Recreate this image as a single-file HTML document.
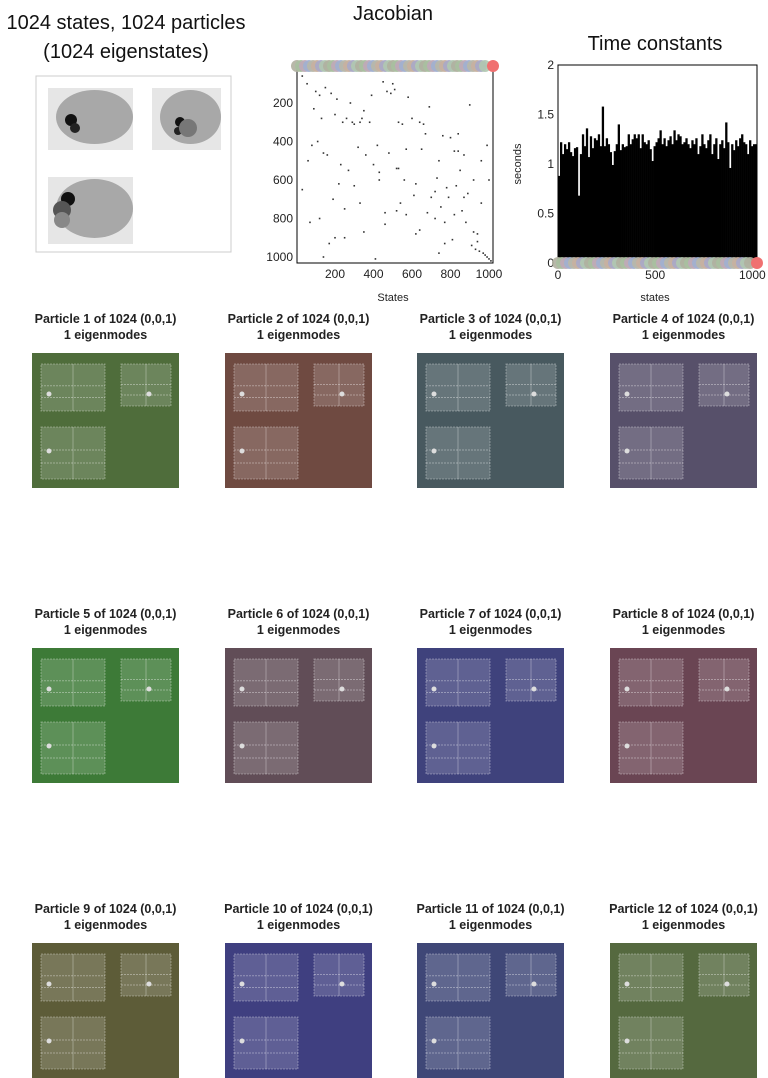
<!DOCTYPE html>
<html><head><meta charset="utf-8">
<style>
html,body{margin:0;padding:0;background:#fff;}
svg{display:block;font-family:"Liberation Sans Narrow","Liberation Sans",sans-serif;}
</style></head>
<body>
<svg id="root" width="768" height="1078" viewBox="0 0 768 1078" xmlns="http://www.w3.org/2000/svg">
  <g font-size="20" fill="#111" text-anchor="middle">
    <text x="126" y="29">1024 states, 1024 particles</text>
    <text x="126" y="58">(1024 eigenstates)</text>
  </g>
  <rect x="36" y="76" width="195" height="176" fill="#fff" stroke="#ccc"/>
  <g id="brain"></g>
  <text x="393" y="20" font-size="20" text-anchor="middle" fill="#111">Jacobian</text>
  <g id="jac"></g>
  <text x="655" y="50" font-size="20" text-anchor="middle" fill="#111">Time constants</text>
  <g id="tc"></g>
  <g id="parts"></g>
</svg>
<script>
// ---- Jacobian data (state column, state row) ----
const jacCols = [20,30,40,55,60,80,90,100,110,120,130,140,150,170,180,190,200,210,220,240,250,260,270,280,290,300,320,330,340,350,360,380,390,400,420,430,450,460,470,480,490,500,510,520,530,540,550,560,570,580,600,610,620,640,650,660,680,690,700,720,730,740,750,760,770,780,790,800,810,820,830,840,850,860,870,880,890,900,910,920,930,940,950,960,970,980,990,1000,1010,30,70,120,160,200,250,300,350,410,460,520,570,620,670,720,770,820,870,920,960,1000,140,230,330,430,530,640,740,840,940,990];
const jacRows = [30,60,20,100,500,420,230,140,400,160,280,460,120,930,150,700,260,180,620,300,900,280,550,200,300,310,430,300,280,240,470,300,160,520,420,600,90,770,140,460,150,100,130,540,300,720,310,600,780,170,280,680,620,300,440,310,770,220,690,660,590,500,740,370,820,640,690,380,910,780,630,360,550,760,470,820,670,210,940,870,960,920,970,720,980,990,1000,1010,1020,650,820,800,470,900,750,630,870,1010,830,760,440,880,360,800,930,450,690,600,500,600,1000,520,720,560,540,860,980,450,880,420];
const jacTicks = [200,400,600,800,1000];
// ---- Time constants (seconds), ~10 states per bar ----
const tcValues = [0.88,1.22,1.1,1.2,1.15,1.22,1.12,1.08,1.16,1.17,0.68,1.1,1.3,1.18,1.36,1.07,1.28,1.16,1.26,1.24,1.3,1.18,1.58,1.18,1.26,1.2,1.12,0.99,1.13,1.2,1.4,1.14,1.2,1.17,1.18,1.3,1.2,1.25,1.3,1.26,1.3,1.16,1.3,1.22,1.2,1.24,1.15,1.03,1.18,1.22,1.26,1.34,1.2,1.26,1.18,1.24,1.28,1.2,1.34,1.24,1.3,1.28,1.2,1.22,1.26,1.2,1.16,1.24,1.2,1.26,1.1,1.18,1.3,1.2,1.16,1.24,1.3,1.1,1.2,1.26,1.05,1.2,1.24,1.16,1.42,1.22,0.96,1.2,1.14,1.24,1.18,1.26,1.3,1.22,1.2,1.1,1.24,1.18,1.2,1.2];
const tcYTicks = [0,0.5,1,1.5,2];
const tcXTicks = [0,500,1000];
// ---- particle panels ----
const particleIds = [1,2,3,4,5,6,7,8,9,10,11,12];
const particleColors = ['#4f6d3b','#6f4a41','#48595f','#57506a','#3d7a37','#614d57','#3f427c','#6a4553','#5d5c38','#3f3f80','#3f4777','#55693f'];

const NS='http://www.w3.org/2000/svg';
function mk(tag, attrs, parent){const e=document.createElementNS(NS,tag);for(const k in attrs)e.setAttribute(k,attrs[k]);parent.appendChild(e);return e;}

// brain
(function(){
  const g=document.getElementById('brain');
  const views=[[48,88,85,62,'sagittal'],[152,88,69,62,'coronal'],[48,177,85,67,'axial']];
  views.forEach(v=>{
    const vg=mk('g',{},g);
    
    
    mk('rect',{x:v[0],y:v[1],width:v[2],height:v[3],fill:'#e6e6e6'},vg);
    mk('ellipse',{cx:v[0]+v[2]/2+4,cy:v[1]+v[3]/2-2,rx:v[2]/2-4,ry:v[3]/2-4,fill:'#a8a8a8'},vg);
  });
  const blobs=[[71,120,6,'#111'],[75,128,5,'#222'],[180,122,5,'#111'],[178,131,4,'#222'],[188,128,9,'#777'],[68,199,7,'#111'],[62,210,9,'#555'],[62,220,8,'#888']];
  blobs.forEach(b=>{mk('circle',{cx:b[0],cy:b[1],r:b[2],fill:b[3]},g);});
})();

// circle strip helper
const stripColors=['#b0b0a0','#a8c0a0','#c0a8b8','#a0b0d0','#b8b8a8','#c8b0a0','#a8a8c8','#b0c8b0'];
function strip(g,x0,x1,y){
  const sg=mk('g',{},g);
  
  
  for(let x=x0,i=0;x<=x1-6;x+=4,i++){mk('circle',{cx:x,cy:y,r:6,fill:stripColors[i%stripColors.length],opacity:0.9},sg);}
  mk('circle',{cx:x1,cy:y,r:6,fill:'#f07070'},sg);
}

// jacobian
(function(){
  const g=document.getElementById('jac');
  const X0=297,X1=493,Y0=66,Y1=263;
  const sx=v=>296.5+v*0.1925, sy=v=>64.5+v*0.1925;
  mk('rect',{x:X0,y:Y0,width:X1-X0,height:Y1-Y0,fill:'#fff',stroke:'#000','stroke-width':1},g);
  jacCols.forEach((c,i)=>{
    const d=mk('rect',{x:sx(c)-0.8,y:sy(jacRows[i])-0.8,width:1.6,height:1.6,fill:'#333'},g);
    
    
  });
  jacTicks.forEach(t=>{
    const a=mk('text',{x:X0-4,y:sy(t)+4,'font-size':12,'text-anchor':'end',fill:'#222'},g);a.textContent=t;
    
    
    const b=mk('text',{x:sx(t),y:Y1+15,'font-size':12,'text-anchor':'middle',fill:'#222'},g);b.textContent=t;
    
    
  });
  strip(g,X0,X1,Y0);
  const l=mk('text',{x:393,y:301,'font-size':11,'text-anchor':'middle',fill:'#222'},g);l.textContent='States';
  
  
})();

// time constants
(function(){
  const g=document.getElementById('tc');
  const X0=558,X1=757,Y0=65,Y1=263;
  const sy=v=>Y1-v*(Y1-Y0)/2, sx=v=>X0+v*(X1-X0)/1024;
  mk('rect',{x:X0,y:Y0,width:X1-X0,height:Y1-Y0,fill:'#fff',stroke:'#000'},g);
  const bw=1024/tcValues.length;
  tcValues.forEach((v,i)=>{
    const b=mk('rect',{x:sx(i*bw),y:sy(v),width:sx(bw)-X0+0.3,height:Y1-sy(v),fill:'#000'},g);
    
    
  });
  tcYTicks.forEach(t=>{
    const a=mk('text',{x:X0-4,y:sy(t)+4,'font-size':12,'text-anchor':'end',fill:'#222'},g);a.textContent=t;
    
    
  });
  tcXTicks.forEach(t=>{
    const a=mk('text',{x:sx(t),y:Y1+16,'font-size':12,'text-anchor':'middle',fill:'#222'},g);a.textContent=t;
    
    
  });
  strip(g,X0,X1,Y1);
  const yl=mk('text',{x:0,y:0,'font-size':11,'text-anchor':'middle',fill:'#222',transform:'translate(521,164) rotate(-90)'},g);yl.textContent='seconds';
  
  
  const xl=mk('text',{x:655,y:301,'font-size':11,'text-anchor':'middle',fill:'#222'},g);xl.textContent='states';
  
  
})();

// particles
(function(){
  const g=document.getElementById('parts');
  const colX=[32,225,417,610], rowY=[353,648,943];
  particleIds.forEach((id,i)=>{
    const x=colX[i%4], y=rowY[Math.floor(i/4)], cx=x+73.5;
    const pg=mk('g',{},g);
    
    
    const t1=mk('text',{x:cx,y:y-30,'font-size':12.5,'font-weight':'bold','text-anchor':'middle',fill:'#222'},pg);
    t1.textContent='Particle '+id+' of 1024 (0,0,1)';
    const t2=mk('text',{x:cx,y:y-14,'font-size':12.5,'font-weight':'bold','text-anchor':'middle',fill:'#222'},pg);
    t2.textContent='1 eigenmodes';
    mk('rect',{x:x,y:y,width:147,height:135,fill:particleColors[i]},pg);
    const subs=[[x+9,y+11,64,47,0],[x+89,y+11,50,42,1],[x+9,y+74,64,52,2]];
    subs.forEach(s=>{
      mk('rect',{x:s[0],y:s[1],width:s[2],height:s[3],fill:'#fff',opacity:0.17},pg);
      [0.25,0.5].forEach(f=>mk('line',{x1:s[0],x2:s[0]+s[2],y1:s[1]+s[3]*f+10,y2:s[1]+s[3]*f+10,stroke:'#fff','stroke-opacity':0.35,'stroke-dasharray':'2 1'},pg));
      mk('rect',{x:s[0],y:s[1],width:s[2],height:s[3],fill:'none',stroke:'#fff','stroke-opacity':0.3,'stroke-dasharray':'2 1'},pg);
      mk('line',{x1:s[0]+s[2]/2,x2:s[0]+s[2]/2,y1:s[1],y2:s[1]+s[3],stroke:'#fff','stroke-opacity':0.3},pg);
    });
    mk('circle',{cx:x+17,cy:y+41,r:2.5,fill:'#ddd'},pg);
    mk('circle',{cx:x+117,cy:y+41,r:2.5,fill:'#ddd'},pg);
    mk('circle',{cx:x+17,cy:y+98,r:2.5,fill:'#ddd'},pg);
  });
})();
</script>
</body></html>
